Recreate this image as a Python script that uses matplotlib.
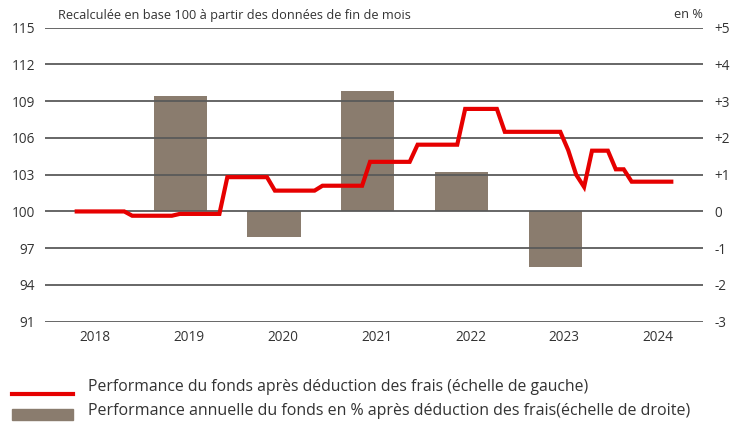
import matplotlib
matplotlib.use("Agg")
import matplotlib.pyplot as plt
import numpy as np

plt.rcParams['font.family'] = ['Open Sans', 'DejaVu Sans']

# ---- data ----
years = ["2018", "2019", "2020", "2021", "2022", "2023", "2024"]
bar_years = ["2019", "2020", "2021", "2022", "2023"]
annual_perf = [3.14, -0.69, 3.28, 1.07, -1.50]   # right axis, %
fund_index = ([100.0] * 7 + [99.65] * 6 + [99.8] * 6 + [102.8] * 6 +
              [101.7] * 6 + [102.1] * 6 + [104.05] * 6 + [105.45] * 6 +
              [108.37] * 5 + [106.5] * 8 + [105.0, 103.0, 102.0] +
              [104.96] * 3 + [103.44] * 2 + [102.43] * 6)   # monthly, left axis
left_ticks = [91, 94, 97, 100, 103, 106, 109, 112, 115]
right_ticks = [-3, -2, -1, 0, 1, 2, 3, 4, 5]
right_labels = ["-3", "-2", "-1", "0", "+1", "+2", "+3", "+4", "+5"]

RED = "#e60000"
BROWN = "#8a7c6e"
GRID = "#5a5a5a"
TXT = "#333333"

fig = plt.figure(figsize=(7.39, 4.25), dpi=100)
ax = fig.add_axes([45 / 739, 1 - 321.7 / 425, (703 - 45) / 739, (321.7 - 27.7) / 425])
ax2 = ax.twinx()

# x in month units
x0 = -4.0
x1 = 79.0
tick_pos = [2.3 + 11.84 * i for i in range(len(years))]
bar_pos = [tick_pos[years.index(y)] - 1.1 for y in bar_years]

ax.set_xlim(x0, x1)
ax.set_ylim(91, 115)
ax2.set_ylim(-3, 5)

for t in left_ticks:
    ax.axhline(t, color=GRID, lw=1.3, zorder=0)

ax2.bar(bar_pos, annual_perf, width=6.7, color=BROWN, zorder=1)
ax2.set_zorder(1)
ax.set_zorder(2)
ax.patch.set_visible(False)

months = np.arange(len(fund_index))
ax.plot(months, fund_index, color=RED, lw=3.0, solid_joinstyle='miter', zorder=3)

for a in (ax, ax2):
    for s in a.spines.values():
        s.set_visible(False)

ax.set_yticks(left_ticks)
ax.set_yticklabels([str(t) for t in left_ticks])
ax2.set_yticks(right_ticks)
ax2.set_yticklabels(right_labels)
ax.set_xticks(tick_pos)
ax.set_xticklabels(years)
ax.tick_params(axis='both', length=0, labelsize=9.8, colors=TXT)
ax.tick_params(axis='y', pad=7)
ax.tick_params(axis='x', pad=6)
ax2.tick_params(axis='y', length=0, labelsize=9.8, colors=TXT, pad=8)

fig.text(58 / 739, 1 - 15 / 425, "Recalculée en base 100 à partir des données de fin de mois",
         fontsize=9.2, color=TXT, va='center', ha='left')
fig.text(703 / 739, 1 - 15 / 425, "en %", fontsize=9.2, color=TXT, va='center', ha='right')

# legend (manual)
fig.add_artist(plt.Line2D([12 / 739, 73 / 739], [1 - 393.7 / 425] * 2, color=RED, lw=3.0,
                          transform=fig.transFigure))
fig.add_artist(plt.Rectangle((12 / 739, 1 - 420 / 425), 61 / 739, 11 / 425, color=BROWN,
                             transform=fig.transFigure))
fig.text(88 / 739, 1 - 387 / 425, "Performance du fonds après déduction des frais (échelle de gauche)",
         fontsize=11.35, color=TXT, va='center', ha='left')
fig.text(88 / 739, 1 - 411 / 425,
         "Performance annuelle du fonds en % après déduction des frais(échelle de droite)",
         fontsize=11.5, color=TXT, va='center', ha='left')

fig.savefig("out.png", dpi=100)
